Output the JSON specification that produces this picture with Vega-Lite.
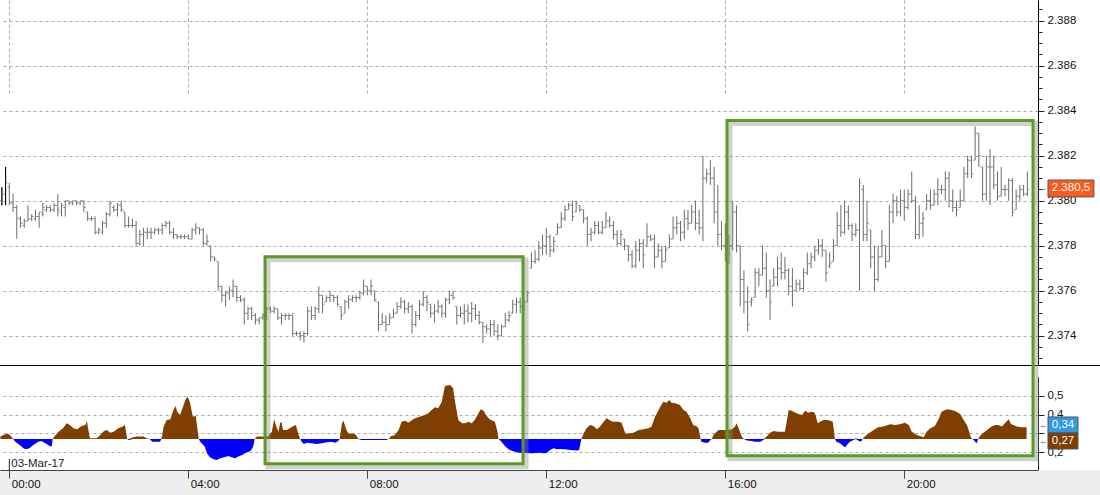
{
"$schema":"https://vega.github.io/schema/vega-lite/v6.json",
"width":1038,"height":470,
"autosize":{"type":"none"},
"padding":{"left":0,"top":0,"right":62,"bottom":25},
"background":"white",
"config":{"font":"Liberation Sans","view":{"stroke":null},
 "axis":{"labelFont":"Liberation Sans","labelFontSize":11.5,"labelColor":"#111","gridColor":"#ababab","gridDash":[3,3],"gridWidth":1,"domainColor":"#222","tickColor":"#222","labelFlush":false}},
"datasets":{
"bars":[
{"m":-10,"o":2380,"h":2380.6,"l":2379.8,"c":2380.3},{"m":-5,"o":2380.3,"h":2381.5,"l":2379.8,"c":2380.8},{"m":0,"o":2380.6,"h":2380.8,"l":2379.8,"c":2379.9},{"m":5,"o":2379.9,"h":2380.3,"l":2379.5,"c":2379.7},{"m":10,"o":2379.7,"h":2379.8,"l":2378.3,"c":2379.2},{"m":15,"o":2379.2,"h":2379.3,"l":2378.8,"c":2379},{"m":20,"o":2378.9,"h":2379.2,"l":2378.8,"c":2379.1},{"m":25,"o":2379.1,"h":2379.8,"l":2379.1,"c":2379.2},{"m":30,"o":2379.2,"h":2379.4,"l":2379.1,"c":2379.3},{"m":35,"o":2379.2,"h":2379.6,"l":2379.1,"c":2379.3},{"m":40,"o":2379.3,"h":2379.5,"l":2378.8,"c":2379.5},{"m":45,"o":2379.4,"h":2379.9,"l":2379.3,"c":2379.7},{"m":50,"o":2379.6,"h":2379.8,"l":2379.5,"c":2379.7},{"m":55,"o":2379.7,"h":2379.8,"l":2379.5,"c":2379.6},{"m":60,"o":2379.6,"h":2379.9,"l":2379.5,"c":2379.8},{"m":65,"o":2379.8,"h":2380.3,"l":2379.3,"c":2379.6},{"m":70,"o":2379.5,"h":2379.9,"l":2379.3,"c":2379.8},{"m":75,"o":2379.7,"h":2380,"l":2379.3,"c":2380},{"m":80,"o":2380,"h":2380,"l":2379.8,"c":2379.9},{"m":85,"o":2379.9,"h":2380,"l":2379.8,"c":2380},{"m":90,"o":2380,"h":2380,"l":2379.8,"c":2379.9},{"m":95,"o":2379.9,"h":2380,"l":2379.8,"c":2380},{"m":100,"o":2380,"h":2380,"l":2379.5,"c":2379.7},{"m":105,"o":2379.5,"h":2379.5,"l":2379.1,"c":2379.2},{"m":110,"o":2379.2,"h":2379.3,"l":2379.1,"c":2379.2},{"m":115,"o":2379.2,"h":2379.3,"l":2378.5,"c":2378.6},{"m":120,"o":2378.6,"h":2378.8,"l":2378.5,"c":2378.7},{"m":125,"o":2378.6,"h":2379.1,"l":2378.5,"c":2379},{"m":130,"o":2379,"h":2379.5,"l":2378.8,"c":2379.4},{"m":135,"o":2379.4,"h":2380,"l":2379.3,"c":2379.9},{"m":140,"o":2379.7,"h":2379.8,"l":2379.5,"c":2379.6},{"m":145,"o":2379.6,"h":2379.9,"l":2379.3,"c":2379.8},{"m":150,"o":2379.8,"h":2380,"l":2379.5,"c":2379.6},{"m":155,"o":2379.5,"h":2379.5,"l":2378.8,"c":2378.9},{"m":160,"o":2378.9,"h":2379.3,"l":2378.8,"c":2378.9},{"m":165,"o":2378.9,"h":2379.2,"l":2378.8,"c":2378.9},{"m":170,"o":2378.9,"h":2379.1,"l":2378,"c":2378.1},{"m":175,"o":2378.1,"h":2378.7,"l":2378,"c":2378.5},{"m":180,"o":2378.5,"h":2378.8,"l":2378,"c":2378.6},{"m":185,"o":2378.6,"h":2378.8,"l":2378.3,"c":2378.6},{"m":190,"o":2378.6,"h":2378.8,"l":2378.3,"c":2378.6},{"m":195,"o":2378.6,"h":2378.8,"l":2378.5,"c":2378.7},{"m":200,"o":2378.7,"h":2378.8,"l":2378.5,"c":2378.7},{"m":205,"o":2378.7,"h":2379,"l":2378.5,"c":2378.9},{"m":210,"o":2378.9,"h":2379.1,"l":2378.8,"c":2379},{"m":215,"o":2379,"h":2379.1,"l":2378.5,"c":2378.6},{"m":220,"o":2378.6,"h":2378.8,"l":2378.3,"c":2378.5},{"m":225,"o":2378.5,"h":2378.5,"l":2378.3,"c":2378.4},{"m":230,"o":2378.4,"h":2378.5,"l":2378.3,"c":2378.4},{"m":235,"o":2378.4,"h":2378.5,"l":2378.3,"c":2378.4},{"m":240,"o":2378.4,"h":2378.5,"l":2378.3,"c":2378.3},{"m":245,"o":2378.3,"h":2378.8,"l":2378.3,"c":2378.7},{"m":250,"o":2378.7,"h":2379,"l":2378.5,"c":2378.8},{"m":255,"o":2378.8,"h":2378.8,"l":2378.5,"c":2378.7},{"m":260,"o":2378.7,"h":2378.8,"l":2378,"c":2378.1},{"m":265,"o":2378.1,"h":2378.5,"l":2378,"c":2378.2},{"m":270,"o":2378,"h":2378,"l":2377.3,"c":2377.5},{"m":275,"o":2377.5,"h":2377.5,"l":2377.3,"c":2377.4},{"m":280,"o":2377.3,"h":2377.3,"l":2376,"c":2376.2},{"m":285,"o":2376.2,"h":2376.2,"l":2375.5,"c":2375.8},{"m":290,"o":2375.8,"h":2376,"l":2375.3,"c":2375.9},{"m":295,"o":2375.9,"h":2376.2,"l":2375.6,"c":2376},{"m":300,"o":2376,"h":2376.5,"l":2375.7,"c":2376.2},{"m":305,"o":2376.2,"h":2376.2,"l":2375.5,"c":2375.7},{"m":310,"o":2375.7,"h":2375.8,"l":2375.5,"c":2375.6},{"m":315,"o":2375.6,"h":2375.7,"l":2374.5,"c":2375},{"m":320,"o":2375,"h":2375.3,"l":2374.7,"c":2375.2},{"m":325,"o":2375.2,"h":2375.3,"l":2374.7,"c":2374.9},{"m":330,"o":2374.9,"h":2375,"l":2374.5,"c":2374.7},{"m":335,"o":2374.7,"h":2374.8,"l":2374.5,"c":2374.8},{"m":340,"o":2374.8,"h":2375,"l":2374.7,"c":2374.9},{"m":345,"o":2374.9,"h":2375.3,"l":2374.7,"c":2375.2},{"m":350,"o":2375.2,"h":2375.3,"l":2375,"c":2375.1},{"m":355,"o":2375.1,"h":2375.3,"l":2375,"c":2375.2},{"m":360,"o":2375.2,"h":2375.2,"l":2374.7,"c":2374.8},{"m":365,"o":2374.8,"h":2375,"l":2374.5,"c":2374.9},{"m":370,"o":2374.9,"h":2375,"l":2374.7,"c":2374.9},{"m":375,"o":2374.9,"h":2375,"l":2374.7,"c":2374.9},{"m":380,"o":2374.9,"h":2375,"l":2374,"c":2374.1},{"m":385,"o":2374.1,"h":2374.2,"l":2374,"c":2374.1},{"m":390,"o":2374.1,"h":2374.2,"l":2373.8,"c":2374},{"m":395,"o":2374,"h":2374.2,"l":2373.7,"c":2374.1},{"m":400,"o":2374.1,"h":2375.3,"l":2374,"c":2375.1},{"m":405,"o":2375.1,"h":2375.3,"l":2374.7,"c":2374.9},{"m":410,"o":2374.9,"h":2375.3,"l":2374.7,"c":2375.2},{"m":415,"o":2375.2,"h":2376.2,"l":2375,"c":2375.8},{"m":420,"o":2375.8,"h":2375.8,"l":2375,"c":2375.4},{"m":425,"o":2375.5,"h":2375.8,"l":2375.5,"c":2375.7},{"m":430,"o":2375.7,"h":2376,"l":2375.5,"c":2375.8},{"m":435,"o":2375.8,"h":2375.8,"l":2375.5,"c":2375.7},{"m":440,"o":2375.7,"h":2375.8,"l":2375.3,"c":2375.4},{"m":445,"o":2375.3,"h":2375.3,"l":2374.7,"c":2374.9},{"m":450,"o":2375,"h":2375.6,"l":2375,"c":2375.5},{"m":455,"o":2375.5,"h":2375.8,"l":2375.2,"c":2375.6},{"m":460,"o":2375.6,"h":2375.8,"l":2375.5,"c":2375.7},{"m":465,"o":2375.7,"h":2375.8,"l":2375.5,"c":2375.7},{"m":470,"o":2375.7,"h":2376,"l":2375.6,"c":2375.9},{"m":475,"o":2375.9,"h":2376.5,"l":2375.8,"c":2376.2},{"m":480,"o":2376.2,"h":2376.2,"l":2375.8,"c":2376},{"m":485,"o":2376,"h":2376.5,"l":2375.8,"c":2376.2},{"m":490,"o":2376,"h":2376,"l":2375.5,"c":2375.6},{"m":495,"o":2375.5,"h":2375.5,"l":2374.2,"c":2374.5},{"m":500,"o":2374.5,"h":2375,"l":2374.5,"c":2374.6},{"m":505,"o":2374.6,"h":2374.9,"l":2374.2,"c":2374.5},{"m":510,"o":2374.5,"h":2375,"l":2374.5,"c":2374.8},{"m":515,"o":2374.8,"h":2375.2,"l":2374.8,"c":2375},{"m":520,"o":2375,"h":2375.5,"l":2375,"c":2375.3},{"m":525,"o":2375.3,"h":2375.7,"l":2375.2,"c":2375.5},{"m":530,"o":2375.5,"h":2375.6,"l":2375,"c":2375.2},{"m":535,"o":2375.2,"h":2375.5,"l":2375,"c":2375.3},{"m":540,"o":2375.3,"h":2375.4,"l":2374.1,"c":2374.5},{"m":545,"o":2374.5,"h":2375.1,"l":2374.4,"c":2374.9},{"m":550,"o":2374.9,"h":2375.6,"l":2374.7,"c":2375.4},{"m":555,"o":2375.4,"h":2376,"l":2375.3,"c":2375.7},{"m":560,"o":2375.7,"h":2375.8,"l":2375.1,"c":2375.5},{"m":565,"o":2375.4,"h":2375.4,"l":2374.8,"c":2375},{"m":570,"o":2375,"h":2375.4,"l":2374.6,"c":2375.1},{"m":575,"o":2375.1,"h":2375.6,"l":2375,"c":2375.3},{"m":580,"o":2375.3,"h":2375.4,"l":2374.8,"c":2375},{"m":585,"o":2375,"h":2375.7,"l":2374.8,"c":2375.6},{"m":590,"o":2375.6,"h":2376,"l":2375.4,"c":2375.8},{"m":595,"o":2375.8,"h":2376,"l":2375.6,"c":2375.7},{"m":600,"o":2375.3,"h":2375.3,"l":2374.5,"c":2374.9},{"m":605,"o":2374.9,"h":2375.3,"l":2374.8,"c":2375},{"m":610,"o":2375,"h":2375.4,"l":2374.5,"c":2375.1},{"m":615,"o":2375.1,"h":2375.4,"l":2374.6,"c":2375},{"m":620,"o":2375,"h":2375.5,"l":2374.6,"c":2375.2},{"m":625,"o":2375.2,"h":2375.4,"l":2374.7,"c":2374.9},{"m":630,"o":2374.9,"h":2375.1,"l":2374.5,"c":2374.6},{"m":635,"o":2374.6,"h":2374.6,"l":2373.7,"c":2374.4},{"m":640,"o":2374.4,"h":2374.5,"l":2374.1,"c":2374.3},{"m":645,"o":2374.3,"h":2374.7,"l":2374,"c":2374.5},{"m":650,"o":2374.5,"h":2374.7,"l":2374,"c":2374.2},{"m":655,"o":2374.2,"h":2374.5,"l":2373.8,"c":2374},{"m":660,"o":2374,"h":2374.5,"l":2374,"c":2374.4},{"m":665,"o":2374.4,"h":2375,"l":2374.4,"c":2374.7},{"m":670,"o":2374.7,"h":2375.1,"l":2374.6,"c":2374.9},{"m":675,"o":2375,"h":2375.6,"l":2375,"c":2375.4},{"m":680,"o":2375.4,"h":2375.7,"l":2375,"c":2375.5},{"m":685,"o":2375.5,"h":2375.7,"l":2375,"c":2375.3},{"m":690,"o":2375.3,"h":2375.6,"l":2375.1,"c":2375.5},{"m":695,"o":2375.5,"h":2376,"l":2375.5,"c":2375.9},{"m":700,"o":2377,"h":2377.7,"l":2377,"c":2377.3},{"m":705,"o":2377.3,"h":2377.8,"l":2377.2,"c":2377.4},{"m":710,"o":2377.4,"h":2378.2,"l":2377.3,"c":2377.9},{"m":715,"o":2377.9,"h":2378.5,"l":2377.6,"c":2378},{"m":720,"o":2378,"h":2378.8,"l":2377.6,"c":2378.4},{"m":725,"o":2378.4,"h":2378.5,"l":2377.5,"c":2377.8},{"m":730,"o":2377.8,"h":2378.4,"l":2377.7,"c":2378.2},{"m":735,"o":2378.5,"h":2379,"l":2378.5,"c":2378.8},{"m":740,"o":2378.8,"h":2379.5,"l":2378.8,"c":2379.2},{"m":745,"o":2379.2,"h":2379.8,"l":2379.1,"c":2379.6},{"m":750,"o":2379.6,"h":2379.9,"l":2379.6,"c":2379.8},{"m":755,"o":2379.8,"h":2380,"l":2379.1,"c":2379.3},{"m":760,"o":2379.5,"h":2380,"l":2379.5,"c":2379.9},{"m":765,"o":2379.8,"h":2379.8,"l":2379.5,"c":2379.6},{"m":770,"o":2379.6,"h":2379.6,"l":2379,"c":2379.2},{"m":775,"o":2379.2,"h":2379.3,"l":2378,"c":2378.5},{"m":780,"o":2378.5,"h":2378.8,"l":2378.2,"c":2378.6},{"m":785,"o":2378.6,"h":2379.1,"l":2378.5,"c":2378.9},{"m":790,"o":2378.9,"h":2379.1,"l":2378.5,"c":2378.6},{"m":795,"o":2378.6,"h":2379.1,"l":2378.5,"c":2378.8},{"m":800,"o":2378.8,"h":2379.5,"l":2378.8,"c":2379.1},{"m":805,"o":2379.1,"h":2379.3,"l":2378.8,"c":2378.9},{"m":810,"o":2378.9,"h":2379.1,"l":2378.3,"c":2378.5},{"m":815,"o":2378.5,"h":2378.7,"l":2378,"c":2378.1},{"m":820,"o":2378.1,"h":2378.7,"l":2378,"c":2378.5},{"m":825,"o":2378.3,"h":2378.3,"l":2377.8,"c":2378},{"m":830,"o":2378,"h":2378,"l":2377.3,"c":2377.6},{"m":835,"o":2377.6,"h":2377.8,"l":2377,"c":2377.1},{"m":840,"o":2377.1,"h":2378.2,"l":2377,"c":2377.8},{"m":845,"o":2377.8,"h":2378.3,"l":2377.3,"c":2378.1},{"m":850,"o":2378.1,"h":2378.3,"l":2377,"c":2377.6},{"m":855,"o":2378,"h":2379,"l":2378,"c":2378.4},{"m":860,"o":2378.4,"h":2378.5,"l":2378.2,"c":2378.3},{"m":865,"o":2378.3,"h":2378.5,"l":2377,"c":2377.5},{"m":870,"o":2377.5,"h":2378.1,"l":2377.5,"c":2377.8},{"m":875,"o":2377.8,"h":2378,"l":2377,"c":2377.3},{"m":880,"o":2377.3,"h":2378,"l":2377.3,"c":2377.8},{"m":885,"o":2377.9,"h":2378.5,"l":2377.9,"c":2378.3},{"m":890,"o":2378.3,"h":2379.3,"l":2378.3,"c":2378.8},{"m":895,"o":2378.8,"h":2379.3,"l":2378.5,"c":2379},{"m":900,"o":2379,"h":2379.1,"l":2378.2,"c":2378.6},{"m":905,"o":2378.6,"h":2379.6,"l":2378.3,"c":2379.2},{"m":910,"o":2379.2,"h":2379.6,"l":2378.7,"c":2379},{"m":915,"o":2379,"h":2379.8,"l":2379,"c":2379.5},{"m":920,"o":2379.5,"h":2380,"l":2378.7,"c":2379},{"m":925,"o":2379,"h":2379.6,"l":2378.5,"c":2378.8},{"m":930,"o":2378.8,"h":2382,"l":2378.2,"c":2381},{"m":935,"o":2381,"h":2381.4,"l":2380.8,"c":2381.2},{"m":940,"o":2381.2,"h":2381.8,"l":2380.7,"c":2381},{"m":945,"o":2381,"h":2381.5,"l":2379,"c":2379.5},{"m":950,"o":2379.5,"h":2380.7,"l":2378,"c":2378.5},{"m":955,"o":2378.5,"h":2379.1,"l":2377.8,"c":2378},{"m":960,"o":2378,"h":2379,"l":2377.3,"c":2377.6},{"m":965,"o":2377.6,"h":2378.5,"l":2377.2,"c":2378},{"m":970,"o":2378,"h":2380,"l":2377.8,"c":2379.5},{"m":975,"o":2379.5,"h":2379.8,"l":2377.7,"c":2378},{"m":980,"o":2378,"h":2378,"l":2375.3,"c":2376.5},{"m":985,"o":2376.5,"h":2376.9,"l":2375,"c":2375.5},{"m":990,"o":2375.5,"h":2376.2,"l":2374.2,"c":2374.5},{"m":995,"o":2375.5,"h":2375.7,"l":2375.3,"c":2375.6},{"m":1000,"o":2375.7,"h":2377,"l":2375.7,"c":2376.8},{"m":1005,"o":2376.8,"h":2377,"l":2376.2,"c":2376.7},{"m":1010,"o":2376.7,"h":2378,"l":2376.7,"c":2377},{"m":1015,"o":2377,"h":2377.7,"l":2375.7,"c":2376},{"m":1020,"o":2376,"h":2376.5,"l":2374.7,"c":2375.5},{"m":1025,"o":2376.2,"h":2377,"l":2376.2,"c":2376.6},{"m":1030,"o":2376.6,"h":2377.5,"l":2376.2,"c":2377},{"m":1035,"o":2377,"h":2377.7,"l":2376.5,"c":2376.8},{"m":1040,"o":2376.8,"h":2377.5,"l":2376.5,"c":2376.9},{"m":1045,"o":2376.9,"h":2377,"l":2375.8,"c":2376.2},{"m":1050,"o":2376.2,"h":2377,"l":2375.3,"c":2376},{"m":1055,"o":2376,"h":2376.5,"l":2376,"c":2376.3},{"m":1060,"o":2376.3,"h":2376.5,"l":2376,"c":2376.1},{"m":1065,"o":2376.1,"h":2377,"l":2376,"c":2376.8},{"m":1070,"o":2376.8,"h":2377.7,"l":2376.7,"c":2377.2},{"m":1075,"o":2377.2,"h":2377.7,"l":2377,"c":2377.5},{"m":1080,"o":2377.5,"h":2378,"l":2377.3,"c":2377.8},{"m":1085,"o":2377.8,"h":2378.3,"l":2377.6,"c":2378},{"m":1090,"o":2378,"h":2378.3,"l":2377.5,"c":2377.8},{"m":1095,"o":2377.8,"h":2377.8,"l":2376.4,"c":2376.8},{"m":1100,"o":2377.1,"h":2377.7,"l":2377,"c":2377.2},{"m":1105,"o":2377.3,"h":2378.3,"l":2377.3,"c":2378},{"m":1110,"o":2378,"h":2379.5,"l":2378,"c":2378.9},{"m":1115,"o":2378.9,"h":2379.8,"l":2378.4,"c":2378.6},{"m":1120,"o":2378.6,"h":2380,"l":2378.5,"c":2379.5},{"m":1125,"o":2379.5,"h":2379.8,"l":2378.7,"c":2378.9},{"m":1130,"o":2378.9,"h":2379,"l":2378.2,"c":2378.5},{"m":1135,"o":2378.5,"h":2379,"l":2378.4,"c":2378.7},{"m":1140,"o":2378.7,"h":2381,"l":2376,"c":2380.8},{"m":1145,"o":2380.5,"h":2380.7,"l":2378.2,"c":2378.5},{"m":1150,"o":2378.5,"h":2380,"l":2378.2,"c":2379},{"m":1155,"o":2378.7,"h":2378.7,"l":2377,"c":2377.5},{"m":1160,"o":2377.5,"h":2378,"l":2376,"c":2376.5},{"m":1165,"o":2376.5,"h":2378,"l":2376.4,"c":2377.5},{"m":1170,"o":2377.5,"h":2378.7,"l":2377.5,"c":2378},{"m":1175,"o":2378,"h":2378,"l":2377,"c":2377.3},{"m":1180,"o":2377.3,"h":2379.8,"l":2377.3,"c":2379.5},{"m":1185,"o":2379.5,"h":2380.3,"l":2379,"c":2380},{"m":1190,"o":2380,"h":2380.2,"l":2379.3,"c":2379.5},{"m":1195,"o":2379.5,"h":2380.5,"l":2379.3,"c":2380},{"m":1200,"o":2380,"h":2380.5,"l":2379.1,"c":2379.7},{"m":1205,"o":2379.7,"h":2380.5,"l":2379.6,"c":2380.3},{"m":1210,"o":2380.3,"h":2381.3,"l":2379.9,"c":2380},{"m":1215,"o":2380,"h":2380.2,"l":2378.3,"c":2378.5},{"m":1220,"o":2378.5,"h":2379.8,"l":2378.3,"c":2379},{"m":1225,"o":2379,"h":2379.5,"l":2378.4,"c":2379.2},{"m":1230,"o":2379.6,"h":2380.3,"l":2379.6,"c":2380},{"m":1235,"o":2380,"h":2380.5,"l":2379.6,"c":2379.8},{"m":1240,"o":2379.8,"h":2380.5,"l":2379.8,"c":2380.3},{"m":1245,"o":2380.3,"h":2381,"l":2379.8,"c":2380.5},{"m":1250,"o":2380.5,"h":2380.7,"l":2380.3,"c":2380.5},{"m":1255,"o":2380.5,"h":2381.3,"l":2380,"c":2381},{"m":1260,"o":2381,"h":2381.3,"l":2379.7,"c":2380},{"m":1265,"o":2380,"h":2380.5,"l":2379.5,"c":2379.7},{"m":1270,"o":2379.7,"h":2380,"l":2379.3,"c":2379.6},{"m":1275,"o":2379.7,"h":2380.5,"l":2379.7,"c":2380},{"m":1280,"o":2380,"h":2381.5,"l":2380,"c":2381.2},{"m":1285,"o":2381.2,"h":2382,"l":2381,"c":2381.8},{"m":1290,"o":2381.8,"h":2382,"l":2381,"c":2381.2},{"m":1295,"o":2381.8,"h":2383.3,"l":2381.8,"c":2383},{"m":1300,"o":2383,"h":2383,"l":2381.5,"c":2382},{"m":1305,"o":2381.5,"h":2381.5,"l":2380,"c":2380.3},{"m":1310,"o":2380.3,"h":2382,"l":2380,"c":2381.5},{"m":1315,"o":2381.5,"h":2382.3,"l":2379.8,"c":2381.5},{"m":1320,"o":2381.5,"h":2382,"l":2380.5,"c":2380.7},{"m":1325,"o":2380.7,"h":2381.3,"l":2380,"c":2380.2},{"m":1330,"o":2380.2,"h":2381.5,"l":2380.2,"c":2380.5},{"m":1335,"o":2380.5,"h":2380.7,"l":2380.2,"c":2380.5},{"m":1340,"o":2380.5,"h":2381,"l":2380,"c":2380.9},{"m":1345,"o":2380.9,"h":2381,"l":2379.3,"c":2379.5},{"m":1350,"o":2379.6,"h":2380.5,"l":2379.6,"c":2380.2},{"m":1355,"o":2380.2,"h":2380.7,"l":2380,"c":2380.5},{"m":1360,"o":2380.5,"h":2380.7,"l":2380.2,"c":2380.3},{"m":1365,"o":2380.3,"h":2381.3,"l":2380.2,"c":2380.5}
],
"ind":[
{"m":-12,"v":0.283},{"m":-8,"v":0.292},{"m":-3,"v":0.3},{"m":1,"v":0.292},{"m":5,"v":0.27},{"m":8,"v":0.256},{"m":14,"v":0.239},{"m":19,"v":0.221},{"m":22,"v":0.216},{"m":27,"v":0.221},{"m":32,"v":0.239},{"m":39,"v":0.256},{"m":43,"v":0.26},{"m":50,"v":0.244},{"m":55,"v":0.23},{"m":57,"v":0.233},{"m":58,"v":0.27},{"m":61,"v":0.286},{"m":66,"v":0.309},{"m":72,"v":0.327},{"m":77,"v":0.354},{"m":81,"v":0.345},{"m":86,"v":0.327},{"m":91,"v":0.322},{"m":97,"v":0.339},{"m":102,"v":0.345},{"m":104,"v":0.366},{"m":106,"v":0.318},{"m":108,"v":0.274},{"m":117,"v":0.274},{"m":122,"v":0.292},{"m":127,"v":0.313},{"m":131,"v":0.318},{"m":135,"v":0.304},{"m":140,"v":0.309},{"m":146,"v":0.327},{"m":152,"v":0.336},{"m":155,"v":0.345},{"m":158,"v":0.27},{"m":160,"v":0.265},{"m":166,"v":0.279},{"m":171,"v":0.283},{"m":180,"v":0.283},{"m":184,"v":0.274},{"m":188,"v":0.27},{"m":192,"v":0.256},{"m":202,"v":0.256},{"m":204,"v":0.27},{"m":207,"v":0.336},{"m":211,"v":0.371},{"m":216,"v":0.375},{"m":220,"v":0.424},{"m":223,"v":0.445},{"m":225,"v":0.415},{"m":229,"v":0.398},{"m":233,"v":0.442},{"m":236,"v":0.477},{"m":239,"v":0.495},{"m":242,"v":0.468},{"m":246,"v":0.389},{"m":250,"v":0.392},{"m":254,"v":0.27},{"m":256,"v":0.256},{"m":262,"v":0.23},{"m":265,"v":0.195},{"m":269,"v":0.173},{"m":274,"v":0.163},{"m":278,"v":0.159},{"m":283,"v":0.168},{"m":288,"v":0.173},{"m":294,"v":0.18},{"m":298,"v":0.173},{"m":303,"v":0.168},{"m":307,"v":0.177},{"m":312,"v":0.186},{"m":316,"v":0.195},{"m":321,"v":0.203},{"m":324,"v":0.209},{"m":327,"v":0.23},{"m":329,"v":0.27},{"m":332,"v":0.283},{"m":347,"v":0.283},{"m":352,"v":0.309},{"m":355,"v":0.375},{"m":358,"v":0.336},{"m":361,"v":0.309},{"m":363,"v":0.354},{"m":365,"v":0.362},{"m":367,"v":0.318},{"m":372,"v":0.318},{"m":376,"v":0.327},{"m":381,"v":0.339},{"m":384,"v":0.345},{"m":388,"v":0.292},{"m":390,"v":0.27},{"m":392,"v":0.256},{"m":395,"v":0.244},{"m":399,"v":0.251},{"m":405,"v":0.248},{"m":412,"v":0.244},{"m":419,"v":0.248},{"m":426,"v":0.253},{"m":432,"v":0.256},{"m":437,"v":0.251},{"m":441,"v":0.26},{"m":443,"v":0.27},{"m":446,"v":0.354},{"m":448,"v":0.367},{"m":452,"v":0.318},{"m":455,"v":0.3},{"m":459,"v":0.3},{"m":464,"v":0.295},{"m":466,"v":0.283},{"m":468,"v":0.272},{"m":472,"v":0.265},{"m":505,"v":0.265},{"m":509,"v":0.27},{"m":511,"v":0.283},{"m":517,"v":0.292},{"m":522,"v":0.318},{"m":526,"v":0.362},{"m":531,"v":0.367},{"m":535,"v":0.357},{"m":540,"v":0.371},{"m":544,"v":0.38},{"m":551,"v":0.389},{"m":557,"v":0.398},{"m":562,"v":0.407},{"m":566,"v":0.424},{"m":571,"v":0.438},{"m":575,"v":0.433},{"m":580,"v":0.468},{"m":584,"v":0.551},{"m":591,"v":0.557},{"m":595,"v":0.539},{"m":598,"v":0.46},{"m":602,"v":0.371},{"m":607,"v":0.354},{"m":611,"v":0.354},{"m":616,"v":0.362},{"m":620,"v":0.354},{"m":624,"v":0.371},{"m":629,"v":0.407},{"m":632,"v":0.428},{"m":636,"v":0.42},{"m":639,"v":0.398},{"m":644,"v":0.375},{"m":648,"v":0.367},{"m":651,"v":0.362},{"m":654,"v":0.318},{"m":656,"v":0.27},{"m":660,"v":0.256},{"m":665,"v":0.23},{"m":671,"v":0.212},{"m":678,"v":0.203},{"m":683,"v":0.198},{"m":688,"v":0.198},{"m":700,"v":0.195},{"m":712,"v":0.198},{"m":716,"v":0.195},{"m":721,"v":0.198},{"m":725,"v":0.212},{"m":730,"v":0.221},{"m":734,"v":0.216},{"m":738,"v":0.217},{"m":745,"v":0.216},{"m":752,"v":0.212},{"m":761,"v":0.209},{"m":764,"v":0.212},{"m":767,"v":0.27},{"m":770,"v":0.3},{"m":774,"v":0.327},{"m":779,"v":0.345},{"m":783,"v":0.339},{"m":788,"v":0.322},{"m":792,"v":0.336},{"m":797,"v":0.362},{"m":801,"v":0.38},{"m":806,"v":0.367},{"m":810,"v":0.362},{"m":817,"v":0.362},{"m":821,"v":0.357},{"m":826,"v":0.3},{"m":830,"v":0.3},{"m":837,"v":0.304},{"m":844,"v":0.318},{"m":850,"v":0.322},{"m":857,"v":0.327},{"m":861,"v":0.336},{"m":866,"v":0.389},{"m":873,"v":0.442},{"m":877,"v":0.468},{"m":881,"v":0.463},{"m":885,"v":0.477},{"m":888,"v":0.463},{"m":893,"v":0.46},{"m":899,"v":0.451},{"m":904,"v":0.424},{"m":908,"v":0.415},{"m":913,"v":0.38},{"m":917,"v":0.345},{"m":922,"v":0.336},{"m":924,"v":0.327},{"m":927,"v":0.27},{"m":928,"v":0.256},{"m":933,"v":0.251},{"m":937,"v":0.251},{"m":940,"v":0.265},{"m":942,"v":0.27},{"m":944,"v":0.292},{"m":951,"v":0.318},{"m":962,"v":0.318},{"m":969,"v":0.322},{"m":973,"v":0.336},{"m":975,"v":0.354},{"m":978,"v":0.327},{"m":982,"v":0.283},{"m":985,"v":0.27},{"m":989,"v":0.262},{"m":995,"v":0.26},{"m":1000,"v":0.256},{"m":1007,"v":0.256},{"m":1011,"v":0.265},{"m":1013,"v":0.274},{"m":1016,"v":0.286},{"m":1020,"v":0.304},{"m":1025,"v":0.313},{"m":1031,"v":0.309},{"m":1040,"v":0.309},{"m":1045,"v":0.424},{"m":1049,"v":0.42},{"m":1054,"v":0.41},{"m":1058,"v":0.403},{"m":1063,"v":0.398},{"m":1067,"v":0.42},{"m":1071,"v":0.41},{"m":1076,"v":0.415},{"m":1080,"v":0.41},{"m":1084,"v":0.354},{"m":1087,"v":0.362},{"m":1092,"v":0.371},{"m":1096,"v":0.371},{"m":1100,"v":0.368},{"m":1104,"v":0.362},{"m":1105,"v":0.336},{"m":1107,"v":0.27},{"m":1109,"v":0.256},{"m":1114,"v":0.248},{"m":1118,"v":0.233},{"m":1121,"v":0.226},{"m":1123,"v":0.239},{"m":1127,"v":0.256},{"m":1132,"v":0.265},{"m":1135,"v":0.274},{"m":1138,"v":0.262},{"m":1142,"v":0.256},{"m":1144,"v":0.27},{"m":1147,"v":0.283},{"m":1152,"v":0.3},{"m":1159,"v":0.318},{"m":1165,"v":0.332},{"m":1172,"v":0.336},{"m":1181,"v":0.348},{"m":1188,"v":0.345},{"m":1194,"v":0.348},{"m":1201,"v":0.357},{"m":1206,"v":0.345},{"m":1210,"v":0.309},{"m":1217,"v":0.292},{"m":1221,"v":0.286},{"m":1226,"v":0.279},{"m":1230,"v":0.309},{"m":1235,"v":0.327},{"m":1241,"v":0.339},{"m":1246,"v":0.375},{"m":1250,"v":0.415},{"m":1257,"v":0.428},{"m":1264,"v":0.424},{"m":1270,"v":0.415},{"m":1275,"v":0.403},{"m":1279,"v":0.375},{"m":1284,"v":0.345},{"m":1287,"v":0.309},{"m":1289,"v":0.283},{"m":1291,"v":0.27},{"m":1293,"v":0.265},{"m":1295,"v":0.256},{"m":1297,"v":0.248},{"m":1299,"v":0.27},{"m":1301,"v":0.283},{"m":1304,"v":0.297},{"m":1311,"v":0.318},{"m":1317,"v":0.336},{"m":1322,"v":0.345},{"m":1326,"v":0.345},{"m":1331,"v":0.336},{"m":1335,"v":0.354},{"m":1340,"v":0.375},{"m":1343,"v":0.35},{"m":1346,"v":0.345},{"m":1351,"v":0.336},{"m":1357,"v":0.332},{"m":1364,"v":0.332}
]},
"layer":[
{"data":{"values":[{}]},"mark":{"type":"rect","color":"#eeeeee"},
 "encoding":{"x":{"datum":-12.5},"x2":{"datum":1462.5},
  "y":{"datum":0.106,"type":"quantitative","scale":{"domain":[0.106,0.6],"range":[470,376.8],"zero":false,"nice":false},
   "axis":{"orient":"right","values":[0.2,0.3,0.4,0.5],"labelExpr":"datum.value > 0.25 && datum.value < 0.35 ? '' : replace(format(datum.value,'.1f'),'.',',')","tickSize":6,"labelPadding":3,"grid":true,"title":null}},
  "y2":{"datum":-0.03}}},
{"data":{"name":"bars"},"mark":{"type":"rule","color":"#6a6a6a","strokeWidth":1},
 "encoding":{"x":{"field":"m","type":"quantitative","scale":{"domain":[-12.5,1379.3],"nice":false,"zero":false},
   "axis":{"orient":"bottom","values":[0,240,480,720,960,1200],"labelExpr":"(datum.value < 600 ? '0' : '') + datum.value/60 + ':00'","labelAlign":"left","labelOffset":2,"labelBaseline":"top","tickSize":8,"labelPadding":0,"grid":true,"zindex":1,"title":null,"domainColor":"#444","tickColor":"#444"}},
  "y":{"field":"l","type":"quantitative","scale":{"domain":[2372.7,2388.92],"range":[365,0],"zero":false,"nice":false},
   "axis":{"orient":"right","values":[2374,2376,2378,2380,2382,2384,2386,2388],"labelExpr":"replace(format(datum.value,',.0f'),',','.')","tickSize":6,"labelPadding":3,"grid":true,"title":null,"domainColor":"#000","tickColor":"#222"}},
  "y2":{"field":"h"}}},
{"data":{"name":"bars"},"transform":[{"filter":"datum.m < 0"}],"mark":{"type":"rule","color":"#000000","strokeWidth":1},
 "encoding":{"x":{"field":"m","type":"quantitative","title":null},
  "y":{"field":"l","type":"quantitative","scale":{"domain":[2372.7,2388.92],"range":[365,0],"zero":false,"nice":false},"axis":null},
  "y2":{"field":"h"}}},
{"data":{"name":"bars"},"mark":{"type":"tick","orient":"horizontal","size":2,"thickness":1,"xOffset":-1,"color":"#6a6a6a"},
 "encoding":{"x":{"field":"m","type":"quantitative","title":null},
  "y":{"field":"o","type":"quantitative","scale":{"domain":[2372.7,2388.92],"range":[365,0],"zero":false,"nice":false},"axis":null}}},
{"data":{"name":"bars"},"mark":{"type":"tick","orient":"horizontal","size":2,"thickness":1,"xOffset":1,"color":"#6a6a6a"},
 "encoding":{"x":{"field":"m","type":"quantitative","title":null},
  "y":{"field":"c","type":"quantitative","scale":{"domain":[2372.7,2388.92],"range":[365,0],"zero":false,"nice":false},"axis":null}}},
{"data":{"name":"ind"},"mark":{"type":"area","color":"#7f3f00"},
 "encoding":{"x":{"field":"m","type":"quantitative","title":null},
  "y":{"field":"v","type":"quantitative","scale":{"domain":[0.27,0.6],"range":[439.06,376.8],"zero":false,"nice":false,"clamp":true},"axis":null},
  "y2":{"datum":0.27}}},
{"data":{"name":"ind"},"mark":{"type":"area","color":"#0000ff"},
 "encoding":{"x":{"field":"m","type":"quantitative","title":null},
  "y":{"field":"v","type":"quantitative","scale":{"domain":[0.106,0.27],"range":[470,439.06],"zero":false,"nice":false,"clamp":true},"axis":null},
  "y2":{"datum":0.27}}},
{"data":{"values":[{}]},"mark":{"type":"rule","color":"#000000","strokeWidth":1,"yOffset":0.5},
 "encoding":{"x":{"datum":-12.5},"x2":{"datum":1462.5},
  "y":{"datum":2372.7,"type":"quantitative","scale":{"domain":[2372.7,2388.92],"range":[365,0],"zero":false,"nice":false},
   "axis":{"orient":"right","values":[2373,2373.5,2374.5,2375,2375.5,2376.5,2377,2377.5,2378.5,2379,2379.5,2380.5,2381,2381.5,2382.5,2383,2383.5,2384.5,2385,2385.5,2386.5,2387,2387.5,2388.5],"labels":false,"tickSize":4,"domain":false,"grid":false,"title":null,"tickColor":"#222"}}}},
{"data":{"values":[{}]},"mark":{"type":"rect","filled":false,"stroke":"#8a8a8a","strokeOpacity":0.4,"strokeWidth":5,"xOffset":3,"x2Offset":3,"yOffset":3,"y2Offset":3},
 "encoding":{"x":{"datum":342.9},"x2":{"datum":688.8},
  "y":{"datum":2377.51,"type":"quantitative","scale":{"domain":[2372.7,2388.92],"range":[365,0],"zero":false,"nice":false},"axis":null},"y2":{"datum":2368.31}}},
{"data":{"values":[{}]},"mark":{"type":"rect","filled":false,"stroke":"#5b9a27","strokeWidth":3},
 "encoding":{"x":{"datum":342.9},"x2":{"datum":688.8},
  "y":{"datum":2377.51,"type":"quantitative","scale":{"domain":[2372.7,2388.92],"range":[365,0],"zero":false,"nice":false},"axis":null},"y2":{"datum":2368.31}}},
{"data":{"values":[{}]},"mark":{"type":"rect","filled":false,"stroke":"#8a8a8a","strokeOpacity":0.4,"strokeWidth":5,"xOffset":3,"x2Offset":3,"yOffset":3,"y2Offset":3},
 "encoding":{"x":{"datum":962.3},"x2":{"datum":1372.6},
  "y":{"datum":2383.56,"type":"quantitative","scale":{"domain":[2372.7,2388.92],"range":[365,0],"zero":false,"nice":false},"axis":null},"y2":{"datum":2368.67}}},
{"data":{"values":[{}]},"mark":{"type":"rect","filled":false,"stroke":"#5b9a27","strokeWidth":3},
 "encoding":{"x":{"datum":962.3},"x2":{"datum":1372.6},
  "y":{"datum":2383.56,"type":"quantitative","scale":{"domain":[2372.7,2388.92],"range":[365,0],"zero":false,"nice":false},"axis":null},"y2":{"datum":2368.67}}},
{"data":{"values":[{}]},"mark":{"type":"rect","fill":"#ff5a1e","stroke":"#555555","strokeWidth":1},
 "encoding":{"x":{"datum":1392.7},"x2":{"datum":1454.3},
  "y":{"datum":2380.92,"type":"quantitative","scale":{"domain":[2372.7,2388.92],"range":[365,0],"zero":false,"nice":false},"axis":null},"y2":{"datum":2380.17}}},
{"data":{"values":[{}]},"mark":{"type":"text","text":"2.380,5","color":"white","fontSize":11.5,"align":"center","baseline":"middle"},
 "encoding":{"x":{"datum":1423.5},
  "y":{"datum":2380.55,"type":"quantitative","scale":{"domain":[2372.7,2388.92],"range":[365,0],"zero":false,"nice":false},"axis":null}}},
{"data":{"values":[{}]},"mark":{"type":"text","text":"←","color":"#555555","fontSize":9,"align":"center","baseline":"middle"},
 "encoding":{"x":{"datum":1386.7},
  "y":{"datum":2380.55,"type":"quantitative","scale":{"domain":[2372.7,2388.92],"range":[365,0],"zero":false,"nice":false},"axis":null}}},
{"data":{"values":[{}]},"mark":{"type":"rect","fill":"#2f9ae6","stroke":"#555555","strokeWidth":1},
 "encoding":{"x":{"datum":1392.7},"x2":{"datum":1432.9},
  "y":{"datum":0.3869,"type":"quantitative","scale":{"domain":[0.106,0.6],"range":[470,376.8],"zero":false,"nice":false},"axis":null},"y2":{"datum":0.3021}}},
{"data":{"values":[{}]},"mark":{"type":"rect","fill":"#7f3f00","stroke":"#555555","strokeWidth":1},
 "encoding":{"x":{"datum":1392.7},"x2":{"datum":1432.9},
  "y":{"datum":0.3021,"type":"quantitative","scale":{"domain":[0.106,0.6],"range":[470,376.8],"zero":false,"nice":false},"axis":null},"y2":{"datum":0.2173}}},
{"data":{"values":[{"v":0.3445,"t":"0,34"},{"v":0.2597,"t":"0,27"}]},"mark":{"type":"text","color":"white","fontSize":11.5,"align":"center","baseline":"middle"},
 "encoding":{"x":{"datum":1412.8},"text":{"field":"t"},
  "y":{"field":"v","type":"quantitative","scale":{"domain":[0.106,0.6],"range":[470,376.8],"zero":false,"nice":false},"axis":null}}},
{"data":{"values":[{"v":0.3445},{"v":0.2597}]},"mark":{"type":"text","text":"←","color":"#555555","fontSize":9,"align":"center","baseline":"middle"},
 "encoding":{"x":{"datum":1386.7},
  "y":{"field":"v","type":"quantitative","scale":{"domain":[0.106,0.6],"range":[470,376.8],"zero":false,"nice":false},"axis":null}}},
{"data":{"values":[{}]},"mark":{"type":"text","text":"03-Mar-17","color":"#222222","fontSize":11.5,"align":"left","baseline":"alphabetic","dx":2},
 "encoding":{"x":{"datum":0},
  "y":{"datum":0.1219,"type":"quantitative","scale":{"domain":[0.106,0.6],"range":[470,376.8],"zero":false,"nice":false},"axis":null}}},
{"data":{"values":[{}]},"mark":{"type":"rule","color":"#222222","strokeWidth":1},
 "encoding":{"x":{"datum":0},
  "y":{"datum":0.1643,"type":"quantitative","scale":{"domain":[0.106,0.6],"range":[470,376.8],"zero":false,"nice":false},"axis":null},"y2":{"datum":0.106}}}
],
"resolve":{"scale":{"y":"independent"}}
}
